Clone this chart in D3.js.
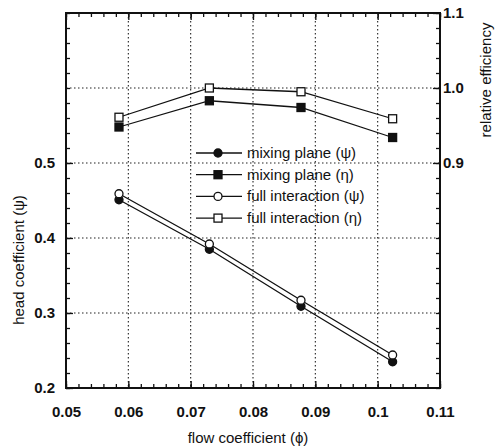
<!DOCTYPE html>
<html>
<head>
<meta charset="utf-8">
<script src="https://cdn.jsdelivr.net/npm/d3@7"></script>
<style>
  body { margin: 0; background: #fff; }
  svg text { font-family: 'Liberation Sans', Arial, sans-serif; fill: #111; }
</style>
</head>
<body>
<div id="graph"></div>
<script>
'use strict';

let W = 500;
let H = 447;
let M = { left: 66, right: 60, top: 13, bottom: 59 };

// data
let flow = [0.0585, 0.0730, 0.0877, 0.1024];
let psiMixing = [0.451, 0.385, 0.309, 0.235];
let psiFull = [0.459, 0.392, 0.317, 0.244];
let etaMixing = [0.948, 0.983, 0.974, 0.934];
let etaFull = [0.961, 1.000, 0.995, 0.959];

let xTicks = [0.05, 0.06, 0.07, 0.08, 0.09, 0.1, 0.11];
let yLeftTicks = [0.2, 0.3, 0.4, 0.5];
let yRightTicks = [0.9, 1.0, 1.1];

let series = [
    { name: 'mixing plane (\u03C8)', values: psiMixing, axis: 'left', shape: 'circle', filled: true },
    { name: 'mixing plane (\u03B7)', values: etaMixing, axis: 'right', shape: 'square', filled: true },
    { name: 'full interaction (\u03C8)', values: psiFull, axis: 'left', shape: 'circle', filled: false },
    { name: 'full interaction (\u03B7)', values: etaFull, axis: 'right', shape: 'square', filled: false },
];

let svg = d3.select('#graph').append('svg')
    .attr('width', W)
    .attr('height', H);

let x = d3.scaleLinear().domain([0.05, 0.11]).range([M.left, W - M.right]);
let yL = d3.scaleLinear().domain([0.2, 0.7]).range([H - M.bottom, M.top]);
let yR = d3.scaleLinear().domain([0.6, 1.1]).range([H - M.bottom, M.top]);

let x0 = M.left, x1 = W - M.right, y0 = H - M.bottom, y1 = M.top;

// dotted grid
let grid = svg.append('g')
    .attr('stroke', '#222')
    .attr('stroke-width', 1.1)
    .attr('stroke-dasharray', '1.5,2.5');

grid.selectAll('.vg')
    .data([0.06, 0.07, 0.08, 0.09, 0.1])
    .enter().append('line')
    .attr('x1', d => x(d)).attr('x2', d => x(d))
    .attr('y1', y1).attr('y2', y0);

grid.selectAll('.hg')
    .data([0.3, 0.4, 0.5, 0.6])
    .enter().append('line')
    .attr('x1', x0).attr('x2', x1)
    .attr('y1', d => yL(d)).attr('y2', d => yL(d));

// axes with inward ticks
function styleAxis (g) {
    g.select('.domain').remove();
    g.selectAll('line').attr('stroke', '#111').attr('stroke-width', 1.3);
    g.selectAll('text')
        .style('font-size', '15px')
        .style('font-weight', 'bold');
}

let xMinor = d3.range(0, 31).map(i => 0.05 + i * 0.002);
let yMinor = d3.range(0, 26).map(i => 0.2 + i * 0.02);
let yRMinor = d3.range(0, 26).map(i => 0.6 + i * 0.02);

svg.append('g')
    .attr('transform', `translate(0,${y0})`)
    .call(d3.axisBottom(x).tickValues(xMinor).tickSize(-4).tickFormat(''))
    .call(styleAxis);
svg.append('g')
    .attr('transform', `translate(0,${y0})`)
    .call(d3.axisBottom(x).tickValues(xTicks).tickSize(-7).tickPadding(18)
        .tickFormat(d => d3.format('')(+d.toFixed(2))))
    .call(styleAxis);

svg.append('g')
    .attr('transform', `translate(0,${y1})`)
    .call(d3.axisTop(x).tickValues(xMinor).tickSize(-4).tickFormat(''))
    .call(styleAxis);
svg.append('g')
    .attr('transform', `translate(0,${y1})`)
    .call(d3.axisTop(x).tickValues(xTicks).tickSize(-7).tickFormat(''))
    .call(styleAxis);

svg.append('g')
    .attr('transform', `translate(${x0},0)`)
    .call(d3.axisLeft(yL).tickValues(yMinor).tickSize(-4).tickFormat(''))
    .call(styleAxis);
svg.append('g')
    .attr('transform', `translate(${x0},0)`)
    .call(d3.axisLeft(yL).tickValues(yLeftTicks).tickSize(-7).tickPadding(11)
        .tickFormat(d3.format('.1f')))
    .call(styleAxis);

svg.append('g')
    .attr('transform', `translate(${x1},0)`)
    .call(d3.axisRight(yR).tickValues(yRMinor).tickSize(-4).tickFormat(''))
    .call(styleAxis);
svg.append('g')
    .attr('transform', `translate(${x1},0)`)
    .call(d3.axisRight(yR).tickValues(yRightTicks).tickSize(-7).tickPadding(3)
        .tickFormat(d3.format('.1f')))
    .call(styleAxis);

// frame
svg.append('rect')
    .attr('x', x0).attr('y', y1)
    .attr('width', x1 - x0).attr('height', y0 - y1)
    .attr('fill', 'none')
    .attr('stroke', '#111')
    .attr('stroke-width', 2);

// axis titles
svg.append('text')
    .attr('x', 248)
    .attr('y', 443)
    .attr('text-anchor', 'middle')
    .style('font-size', '15px')
    .text('flow coefficient (\u03D5)');

svg.append('text')
    .attr('transform', 'translate(24,260) rotate(-90)')
    .attr('text-anchor', 'middle')
    .style('font-size', '15px')
    .text('head coefficient (\u03C8)');

svg.append('text')
    .attr('transform', 'translate(491,80) rotate(-90)')
    .attr('text-anchor', 'middle')
    .style('font-size', '15px')
    .text('relative efficiency');

// markers
function drawMarker (g, s, cx, cy) {
    if (s.shape === 'circle') {
        g.append('circle')
            .attr('cx', cx).attr('cy', cy).attr('r', 4)
            .attr('fill', s.filled ? '#111' : '#fff')
            .attr('stroke', '#111').attr('stroke-width', 1.3);
    } else {
        g.append('rect')
            .attr('x', cx - 4).attr('y', cy - 4)
            .attr('width', 8).attr('height', 8)
            .attr('fill', s.filled ? '#111' : '#fff')
            .attr('stroke', '#111').attr('stroke-width', 1.3);
    }
}

let line = d3.line();

series.forEach(s => {
    let yScale = s.axis === 'left' ? yL : yR;
    let pts = flow.map((f, i) => [x(f), yScale(s.values[i])]);
    let g = svg.append('g');
    g.append('path')
        .attr('d', line(pts))
        .attr('fill', 'none')
        .attr('stroke', '#111')
        .attr('stroke-width', 1.3);
    pts.forEach(p => drawMarker(g, s, p[0], p[1]));
});

// legend
let legend = svg.append('g').attr('transform', 'translate(196,153)');
series.forEach((s, i) => {
    let g = legend.append('g').attr('transform', `translate(0,${i * 21.7})`);
    g.append('line')
        .attr('x1', 0).attr('x2', 46)
        .attr('stroke', '#111').attr('stroke-width', 1.3);
    drawMarker(g, s, 22, 0);
    g.append('text')
        .attr('x', 51)
        .attr('y', 5)
        .style('font-size', '15px')
        .text(s.name);
});
</script>
</body>
</html>
